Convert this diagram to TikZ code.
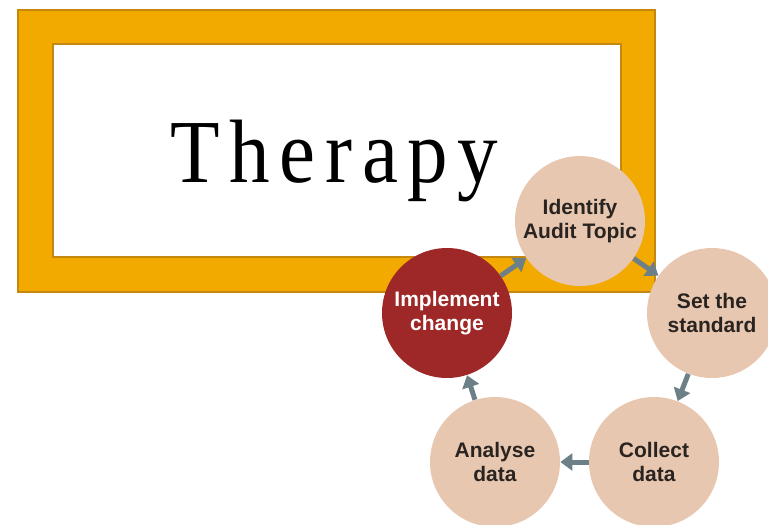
\documentclass[tikz,border=0pt]{standalone}
\usepackage{fontspec}
\setmainfont{Liberation Serif}
\setsansfont{Liberation Sans}
\newfontfamily\therapyfont[LetterSpace=12]{Liberation Serif}
\usetikzlibrary{arrows.meta}

\definecolor{frameor}{HTML}{F2A900}
\definecolor{frameedge}{HTML}{C4880E}
\definecolor{peach}{HTML}{E8C7B1}
\definecolor{auditred}{HTML}{9E2828}
\definecolor{arrgray}{HTML}{6D7F87}
\definecolor{darktext}{HTML}{2A2421}

\begin{document}
\begin{tikzpicture}[x=0.5pt, y=-0.5pt,
    stage/.style={circle, fill=peach, minimum size=65pt, inner sep=0pt, align=center,
        font=\sffamily\bfseries\fontsize{10.5}{12}\selectfont, text=darktext},
    flow/.style={draw=arrgray, line width=2.5pt, -{Triangle[length=6pt, width=8.5pt]}}]
    \useasboundingbox (0,0) rectangle (768,525);
    \clip (0,0) rectangle (768,525);

    % frame
    \draw[frameedge, line width=1pt, fill=frameor] (18,10) rectangle (655,292);
    \draw[frameedge, line width=1pt, fill=white] (53,44) rectangle (621,257);
    \node[anchor=base west, inner sep=0pt, xscale=0.9,
        font=\therapyfont\fontsize{45}{50}\selectfont] (title) at (170,182) {Therapy};

    % audit cycle
    \node[stage] (ident) at (580,221) {Identify\\Audit Topic};
    \node[stage] (stand) at (712,313) {Set the\\standard};
    \node[stage] (collect) at (654,462) {Collect\\data};
    \node[stage] (analyse) at (495,462) {Analyse\\data};
    \node[stage, fill=auditred, text=white] (impl) at (447,313) {Implement\\change};

    \begin{scope}
    \path[flow] (impl) -- (ident);
    \path[flow] (ident) -- (stand);
    \path[flow] (stand) -- (collect);
    \path[flow] (collect) -- (analyse);
    \path[flow] (analyse) -- (impl);
    \end{scope}
\end{tikzpicture}
\end{document}
